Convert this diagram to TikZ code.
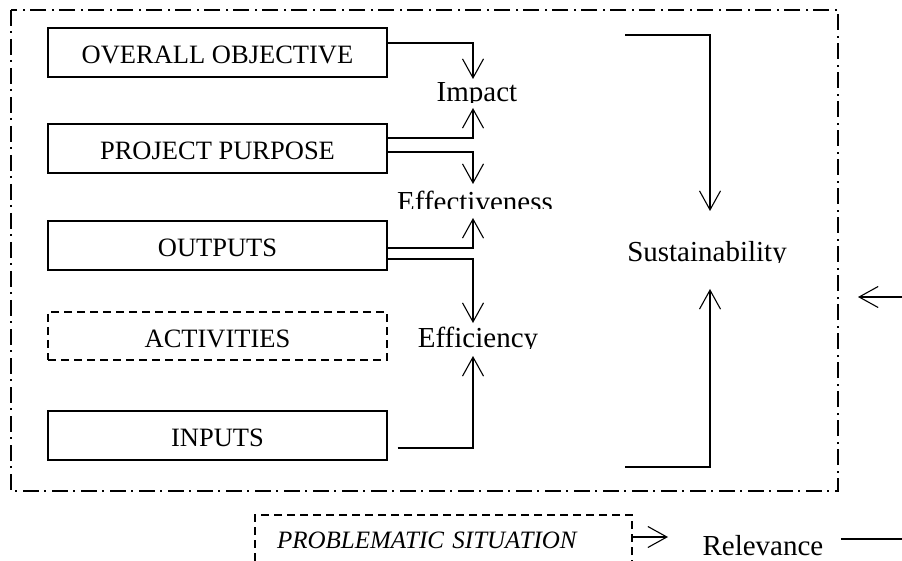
\documentclass[tikz,border=0pt]{standalone}
\usepackage{fontspec}
\setmainfont{Liberation Serif}
\usetikzlibrary{arrows.meta}
\begin{document}
\begin{tikzpicture}[x=1pt,y=-1pt,
  line width=1.1pt,
  boxfont/.style={font=\fontsize{26.5}{30}\selectfont},
  lblfont/.style={font=\fontsize{29}{33}\selectfont},
  blk/.style={draw, line width=1.1pt, minimum width=339pt, minimum height=49pt,
    inner sep=0pt, text height=22.5pt, text depth=0pt, boxfont},
  dblk/.style={blk, minimum height=48pt, dash pattern=on 8pt off 5pt},
  lbl/.style={inner sep=0pt, lblfont},
  arr/.style={-{Straight Barb[length=19pt,width=21pt]}},
  frame/.style={dash pattern=on 16pt off 5pt on 2pt off 6pt}
]
\clip (0,0) rectangle (902,561);
\fill[white] (0,0) rectangle (902,561);

% outer dash-dot frame
\draw[frame] (11,10) rectangle (838,491);

% boxes
\node[blk]  (oo)  at (217.5,52.5)  {OVERALL OBJECTIVE};
\node[blk]  (pp)  at (217.5,148.5) {PROJECT PURPOSE};
\node[blk]  (out) at (217.5,245.5) {OUTPUTS};
\node[dblk] (act) at (217.5,336)   {ACTIVITIES};
\node[blk]  (inp) at (217.5,435.5) {INPUTS};

% labels (bottoms clipped as in the original)
\begin{scope}
  \clip (0,0) rectangle (902,103);
  \node[lbl, anchor=base] (impact) at (477,102) {Impact};
\end{scope}
\begin{scope}
  \clip (0,0) rectangle (902,209);
  \node[lbl, anchor=base] (effect) at (475,212) {Effectiveness};
\end{scope}
\begin{scope}
  \clip (0,0) rectangle (902,348);
  \node[lbl, anchor=base] (effic) at (478,347) {Efficiency};
\end{scope}
\begin{scope}
  \clip (0,0) rectangle (902,263);
  \node[lbl, anchor=base] (sust) at (707,262) {Sustainability};
\end{scope}

% arrow tips
\coordinate (impDn) at (473,79);
\coordinate (impUp) at (473,108);
\coordinate (effDn) at (473,184);
\coordinate (effUp) at (473,218);
\coordinate (ficDn) at (473,323);
\coordinate (ficUp) at (473,356);

\draw[arr] ([yshift=9.5pt]oo.east)   -| (impDn);
\draw[arr] ([yshift=10.5pt]pp.east)  -| (impUp);
\draw[arr] ([yshift=-3.5pt]pp.east)  -| (effDn);
\draw[arr] ([yshift=-2.5pt]out.east) -| (effUp);
\draw[arr] ([yshift=-13.5pt]out.east) -| (ficDn);
\draw[arr] ([xshift=10pt,yshift=-12.5pt]inp.east) -| (ficUp);

% sustainability connectors
\coordinate (sTop) at (625,35);
\coordinate (sTopTip) at (710,211);
\coordinate (sBot) at (625,467);
\coordinate (sBotTip) at (710,289);
\draw[arr] (sTop) -| (sTopTip);
\draw[arr] (sBot) -| (sBotTip);

% incoming arrow at right
\coordinate (rIn) at (902,297);
\coordinate (rTip) at (858,297);
\draw[arr] (rIn) -- (rTip);

% problematic situation
\node[draw, dash pattern=on 8pt off 5pt, minimum width=377pt, minimum height=66pt,
  inner xsep=22pt, inner ysep=0pt, text width=333pt, align=left,
  text height=10pt, text depth=10pt,
  font=\itshape\fontsize{25}{29}\selectfont] (ps) at (443.5,548) {PROBLEMATIC SITUATION};

\node[lbl, anchor=base west] (rel) at (702,555) {Relevance};
\coordinate (relIn) at (668,537);
\draw[arr] (ps.east |- relIn) -- (relIn);
\coordinate (relOut) at (902,539);
\draw ([xshift=17pt]rel.east |- relOut) -- (relOut);
\end{tikzpicture}
\end{document}
